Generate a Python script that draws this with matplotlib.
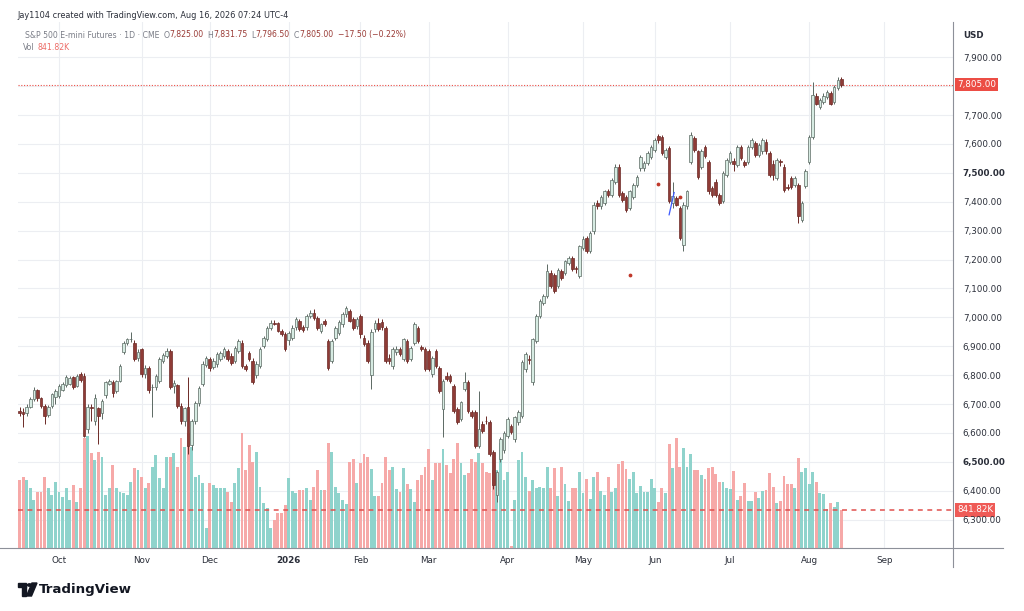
import matplotlib
matplotlib.use("Agg")
import matplotlib.pyplot as plt
import matplotlib.transforms as mtransforms
import numpy as np
import pandas as pd
from matplotlib.lines import Line2D
from matplotlib.patches import Circle, Polygon, Rectangle

W, H, DPI = 1024, 611, 100

# exchange holidays (no daily bar)
holidays = ["2025-11-27", "2025-12-25", "2026-01-01", "2026-01-19", "2026-02-16",
            "2026-04-03", "2026-05-25", "2026-06-19", "2026-07-03", "2026-09-07"]
first_day = "2025-09-16"

# daily bars, ES1!
opens = [
    6675, 6672, 6668, 6690, 6718, 6748, 6720, 6694, 6662, 6692,
    6725, 6728, 6750, 6765, 6770, 6792, 6762, 6803, 6798, 6615,
    6690, 6640, 6685, 6668, 6730, 6770, 6775, 6745, 6780, 6880,
    6913, 6924, 6913, 6860, 6890, 6803, 6826, 6758, 6760, 6780,
    6850, 6865, 6884, 6762, 6765, 6694, 6640, 6690, 6560, 6640,
    6705, 6770, 6835, 6855, 6830, 6838, 6855, 6868, 6884, 6868,
    6850, 6885, 6912, 6832, 6878, 6850, 6800, 6832, 6900, 6925,
    6964, 6982, 6980, 6953, 6942, 6920, 6930, 6965, 6987, 6968,
    6965, 7005, 7016, 6999, 6953, 6988, 6918, 6850, 6930, 6945,
    6976, 7010, 7022, 6993, 6970, 7005, 6930, 6913, 6800, 6959,
    6982, 6985, 6964, 6861, 6832, 6880, 6890, 6855, 6918, 6855,
    6913, 6964, 6896, 6890, 6884, 6803, 6884, 6826, 6683, 6798,
    6798, 6763, 6683, 6648, 6752, 6775, 6671, 6671, 6556, 6631,
    6643, 6637, 6533, 6384, 6510, 6540, 6590, 6625, 6579, 6637,
    6660, 6821, 6855, 6775, 6918, 7005, 7050, 7073, 7154, 7148,
    7108, 7160, 7154, 7188, 7206, 7170, 7143, 7240, 7275, 7229,
    7298, 7395, 7384, 7395, 7436, 7424, 7470, 7522, 7430, 7418,
    7378, 7418, 7459, 7516, 7516, 7533, 7556, 7579, 7628, 7625,
    7556, 7585, 7395, 7413, 7378, 7252, 7384, 7539, 7620, 7574,
    7520, 7591, 7539, 7447, 7470, 7424, 7401, 7493, 7539, 7540,
    7528, 7591, 7539, 7539, 7591, 7602, 7562, 7574, 7608, 7568,
    7530, 7482, 7539, 7522, 7452, 7482, 7459, 7459, 7338, 7453,
    7539, 7625, 7766, 7728, 7746, 7763, 7775, 7746, 7792, 7825,
]
highs = [
    6690, 6685, 6700, 6725, 6758, 6752, 6726, 6700, 6698, 6740,
    6752, 6768, 6775, 6800, 6798, 6798, 6805, 6810, 6808, 6700,
    6700, 6735, 6690, 6718, 6780, 6788, 6782, 6785, 6840, 6918,
    6930, 6948, 6920, 6890, 6895, 6835, 6832, 6770, 6805, 6862,
    6878, 6895, 6890, 6785, 6770, 6705, 6690, 6792, 6650, 6712,
    6762, 6848, 6866, 6862, 6858, 6880, 6885, 6898, 6892, 6875,
    6902, 6925, 6920, 6840, 6885, 6858, 6848, 6896, 6936, 6970,
    6990, 6990, 6985, 6960, 6948, 6952, 6972, 7000, 6995, 6975,
    7012, 7024, 7030, 7005, 6982, 6995, 6925, 6925, 6970, 6992,
    7018, 7040, 7030, 7000, 7002, 7012, 6938, 6920, 6960, 6990,
    6998, 6995, 6970, 6872, 6898, 6900, 6898, 6930, 6925, 6902,
    6985, 6970, 6905, 6896, 6892, 6868, 6890, 6832, 6788, 6810,
    6805, 6770, 6690, 6712, 6810, 6782, 6680, 6680, 6746, 6640,
    6660, 6645, 6540, 6470, 6585, 6608, 6655, 6632, 6660, 6678,
    6852, 6880, 6870, 6930, 7012, 7062, 7080, 7183, 7165, 7155,
    7172, 7168, 7200, 7214, 7212, 7178, 7252, 7280, 7282, 7300,
    7398, 7405, 7425, 7442, 7445, 7482, 7530, 7530, 7438, 7425,
    7442, 7466, 7494, 7562, 7540, 7575, 7598, 7620, 7635, 7630,
    7585, 7592, 7470, 7420, 7385, 7400, 7442, 7640, 7628, 7580,
    7582, 7598, 7546, 7455, 7478, 7430, 7506, 7552, 7575, 7552,
    7598, 7598, 7546, 7598, 7620, 7610, 7604, 7622, 7616, 7575,
    7545, 7552, 7548, 7530, 7460, 7490, 7490, 7466, 7402, 7512,
    7632, 7815, 7775, 7760, 7775, 7788, 7782, 7805, 7832, 7831.75,
]
lows = [
    6660, 6620, 6660, 6685, 6712, 6712, 6685, 6632, 6655, 6688,
    6700, 6722, 6745, 6760, 6765, 6752, 6758, 6775, 6585, 6600,
    6640, 6628, 6562, 6650, 6722, 6765, 6725, 6738, 6775, 6872,
    6905, 6915, 6848, 6850, 6795, 6790, 6740, 6655, 6750, 6772,
    6842, 6858, 6752, 6740, 6688, 6632, 6625, 6528, 6540, 6630,
    6695, 6762, 6828, 6815, 6820, 6830, 6848, 6860, 6850, 6835,
    6842, 6878, 6825, 6815, 6850, 6768, 6790, 6825, 6893, 6918,
    6958, 6972, 6948, 6935, 6882, 6905, 6922, 6958, 6952, 6950,
    6958, 6998, 6992, 6958, 6945, 6970, 6818, 6842, 6922, 6938,
    6968, 7002, 6985, 6955, 6960, 6930, 6900, 6842, 6752, 6950,
    6952, 6955, 6842, 6840, 6820, 6870, 6865, 6848, 6842, 6848,
    6905, 6912, 6885, 6815, 6815, 6795, 6825, 6740, 6585, 6780,
    6772, 6670, 6630, 6640, 6745, 6670, 6652, 6548, 6548, 6600,
    6630, 6520, 6405, 6361, 6500, 6532, 6582, 6595, 6570, 6628,
    6652, 6812, 6840, 6765, 6910, 6998, 7042, 7066, 7100, 7085,
    7100, 7130, 7146, 7180, 7160, 7155, 7135, 7232, 7222, 7222,
    7290, 7375, 7376, 7388, 7418, 7416, 7462, 7416, 7400, 7365,
    7370, 7410, 7452, 7508, 7508, 7526, 7548, 7572, 7605, 7562,
    7548, 7395, 7380, 7385, 7268, 7228, 7376, 7530, 7572, 7480,
    7512, 7550, 7428, 7418, 7418, 7388, 7394, 7486, 7532, 7505,
    7520, 7545, 7520, 7532, 7584, 7555, 7555, 7566, 7567, 7486,
    7475, 7475, 7525, 7434, 7440, 7445, 7452, 7327, 7330, 7446,
    7530, 7618, 7735, 7720, 7740, 7756, 7735, 7740, 7786, 7796.5,
]
closes = [
    6670, 6665, 6690, 6718, 6750, 6720, 6692, 6660, 6690, 6735,
    6745, 6762, 6768, 6792, 6790, 6760, 6798, 6782, 6591, 6690,
    6686, 6722, 6660, 6712, 6775, 6780, 6738, 6780, 6832, 6912,
    6924, 6926, 6856, 6880, 6805, 6826, 6748, 6760, 6798, 6855,
    6870, 6884, 6760, 6772, 6694, 6640, 6685, 6556, 6640, 6705,
    6755, 6840, 6858, 6826, 6850, 6872, 6878, 6890, 6855, 6843,
    6895, 6918, 6832, 6823, 6857, 6775, 6840, 6890, 6930, 6964,
    6982, 6978, 6953, 6942, 6890, 6945, 6964, 6993, 6960, 6958,
    7005, 7016, 6999, 6964, 6976, 6976, 6826, 6918, 6964, 6985,
    7010, 7033, 6988, 6964, 6995, 6941, 6907, 6850, 6950, 6982,
    6959, 6965, 6850, 6850, 6890, 6890, 6872, 6924, 6850, 6895,
    6976, 6918, 6890, 6821, 6821, 6861, 6832, 6746, 6780, 6786,
    6780, 6677, 6637, 6706, 6775, 6677, 6660, 6556, 6614, 6608,
    6640, 6528, 6420, 6464, 6579, 6600, 6648, 6602, 6654, 6671,
    6844, 6872, 6852, 6924, 7005, 7056, 7073, 7160, 7108, 7091,
    7165, 7137, 7194, 7206, 7166, 7166, 7246, 7270, 7229, 7292,
    7390, 7385, 7418, 7436, 7424, 7476, 7522, 7424, 7407, 7372,
    7436, 7459, 7487, 7556, 7533, 7568, 7591, 7614, 7612, 7568,
    7578, 7401, 7420, 7390, 7275, 7390, 7436, 7631, 7579, 7487,
    7574, 7560, 7436, 7424, 7424, 7395, 7499, 7545, 7568, 7531,
    7591, 7551, 7528, 7591, 7614, 7562, 7597, 7614, 7574, 7493,
    7492, 7545, 7537, 7441, 7447, 7450, 7482, 7350, 7395, 7505,
    7625, 7769, 7740, 7752, 7766, 7780, 7740, 7798, 7822.5, 7805,
]
# volume in thousands of contracts
volumes = [
    1506, 1580, 1506, 1322, 1063, 1248, 1248, 1580, 1322, 1174,
    1469, 1248, 1137, 1322, 1063, 1396, 1026, 1322, 2429, 2481,
    2097, 1949, 2134, 2023, 1174, 1322, 1838, 1322, 1248, 1211,
    1174, 1469, 1765, 1728, 1580, 1322, 1432, 1801, 2060, 1543,
    1322, 2023, 2023, 2097, 1801, 2429, 2245, 2540, 2244, 1580,
    1617, 1432, 436, 1432, 1394, 1320, 1320, 1320, 1247, 1026,
    1432, 1765, 2540, 1728, 2282, 1913, 2134, 1358, 1000, 890,
    436, 620, 768, 768, 952, 1543, 1260, 1210, 1284, 1284,
    1320, 1063, 1358, 1728, 1284, 1284, 2318, 2134, 1358, 1210,
    1063, 975, 1912, 1981, 1446, 1875, 2081, 2023, 1743, 1152,
    1152, 1446, 2008, 1728, 1787, 1300, 1247, 1765, 1417, 1300,
    1026, 1506, 1617, 1802, 2185, 1506, 1890, 1875, 2193, 1838,
    1654, 1981, 2326, 1875, 1617, 1654, 1981, 1912, 2111, 1875,
    1691, 1654, 1721, 1728, 2318, 1506, 1690, 43, 1063, 1949,
    2134, 1580, 1262, 1506, 1321, 1358, 1321, 1801, 1336, 1764,
    1159, 1801, 1410, 1041, 1321, 1321, 1676, 1211, 1529, 1085,
    1580, 1690, 1262, 1174, 1565, 1247, 1321, 1853, 1928, 1747,
    1529, 1676, 1211, 1373, 1247, 1247, 1529, 1321, 1026, 1336,
    1211, 2296, 1764, 2429, 1801, 2222, 1801, 2075, 1728, 1728,
    1617, 1529, 1764, 1801, 1631, 1469, 1469, 1321, 1306, 1705,
    1063, 1159, 1432, 1041, 1041, 1233, 1100, 1262, 1284, 1654,
    1358, 990, 1041, 1602, 1410, 1410, 1336, 1999, 1690, 1779,
    1410, 1676, 1454, 1211, 1189, 862, 990, 915, 1012, 841.82,
]

# small drawings left on the chart
dot_bars = [170, 178, 184]
dot_prices = [7145, 7462, 7417]
pen_bars = [181.0, 182.4]
pen_prices = [7355, 7432]

price_ticks = list(range(6300, 8000, 100))
bold_ticks = [6500, 7500]

UP_FILL, UP_EDGE = "#d6ebe2", "#5b6963"
DN_FILL, DN_EDGE = "#8f3b36", "#6c2a26"
VOL_UP, VOL_DN = "#8fd3cc", "#f6a9a8"
GRID = "#eceef2"
RED = "#ec4d45"
TXT = "#2a2e39"
GREY = "#7a7d87"
VAL = "#9a3b36"


def px_rect(left, top, right, bottom):
    return [left / W, 1 - bottom / H, (right - left) / W, (bottom - top) / H]


def chain_text(fig, x_px, y_px, parts, size):
    # parts: (text, colour, gap in px after it)
    renderer = fig.canvas.get_renderer()
    x = x_px
    for s, color, gap in parts:
        t = fig.text(x / W, 1 - y_px / H, s, color=color, fontsize=size,
                     va="center", ha="left")
        x += t.get_window_extent(renderer).width + gap


all_days = pd.bdate_range(first_day, "2026-09-30", freq="C", holidays=holidays)
n = len(closes)
x = np.arange(n)
o, h, l, c = (np.array(v, dtype=float) for v in (opens, highs, lows, closes))
up = c >= o

fig = plt.figure(figsize=(W / DPI, H / DPI), dpi=DPI)
rect = px_rect(18, 22, 953, 548)
axv = fig.add_axes(rect)
ax = fig.add_axes(rect, sharex=axv)
ax.patch.set_alpha(0)

# volume pane
axv.bar(x, volumes, width=0.8, color=np.where(up, VOL_UP, VOL_DN), linewidth=0, zorder=2)
axv.set_ylim(0, 841.82 * 526 / 38)
axv.axhline(volumes[-1], color="#e0504d", lw=1.1, ls=(0, (3.2, 3.0)), zorder=3)
axv.set_yticks([])
for s in axv.spines.values():
    s.set_visible(False)

# month grid
month_start = [i for i in range(1, len(all_days)) if all_days[i].month != all_days[i - 1].month]
month_lab = [d.strftime("%b") if d.month != 1 else str(d.year) for d in all_days[month_start]]
for i in month_start:
    axv.axvline(i, color=GRID, lw=0.8, zorder=0)
for p in price_ticks:
    axv.axhline((p - 6202) / (8022 - 6202) * axv.get_ylim()[1], color=GRID, lw=0.8, zorder=0)

# candles
ax.vlines(x[up], l[up], h[up], color=UP_EDGE, lw=0.7, zorder=2)
ax.vlines(x[~up], l[~up], h[~up], color=DN_EDGE, lw=0.7, zorder=2)
body_lo = np.minimum(o, c)
body_h = np.maximum(np.abs(c - o), 2.5)
ax.bar(x[up], body_h[up], bottom=body_lo[up], width=0.72, color=UP_FILL,
       edgecolor=UP_EDGE, linewidth=0.5, zorder=3)
ax.bar(x[~up], body_h[~up], bottom=body_lo[~up], width=0.72, color=DN_FILL,
       edgecolor=DN_EDGE, linewidth=0.5, zorder=3)
ax.scatter(dot_bars, dot_prices, s=3, color="#c0392b", zorder=4)
ax.plot(pen_bars, pen_prices, color="#3d5afe", lw=0.9, zorder=4)

ax.set_xlim(-0.42, 260.1)
ax.set_ylim(6202, 8022)
ax.axhline(c[-1], color=RED, lw=0.8, ls=(0, (1, 1.5)), zorder=1)

ax.yaxis.tick_right()
ax.set_yticks(price_ticks)
ax.set_yticklabels([f"{p:,.2f}" for p in price_ticks])
for lab, p in zip(ax.get_yticklabels(), price_ticks):
    lab.set_fontweight("bold" if p in bold_ticks else "normal")
    # the last-price tag covers the scale label next to it
    lab.set_visible(abs(p - c[-1]) > 40)
ax.tick_params(axis="y", length=0, pad=7, labelsize=6.3, labelcolor=TXT)
ax.set_xticks(month_start)
ax.set_xticklabels(month_lab)
for lab, t in zip(ax.get_xticklabels(), month_lab):
    lab.set_fontweight("bold" if t.isdigit() else "normal")
ax.tick_params(axis="x", length=0, pad=6, labelsize=6.3, labelcolor=TXT)
axv.tick_params(axis="x", length=0, labelbottom=False)
for side in ("left", "top", "right", "bottom"):
    ax.spines[side].set_visible(False)

# axis borders (price scale and time scale)
fig.add_artist(Line2D([953 / W, 953 / W], [1 - 22 / H, 1 - 567 / H], color="#8d9099", lw=0.8))
fig.add_artist(Line2D([0, 1003 / W], [1 - 548 / H, 1 - 548 / H], color="#8d9099", lw=0.8))

# last value labels
tr = mtransforms.blended_transform_factory(ax.transAxes, ax.transData)
off = mtransforms.ScaledTranslation(4 / DPI, 0, fig.dpi_scale_trans)
ax.text(1.0, c[-1], f"{c[-1]:,.2f}", transform=tr + off, ha="left", va="center",
        fontsize=6.3, color="white", clip_on=False, zorder=5,
        bbox=dict(boxstyle="square,pad=0.25", fc=RED, ec="none"))
trv = mtransforms.blended_transform_factory(axv.transAxes, axv.transData)
axv.text(1.0, volumes[-1], f"{volumes[-1]:.2f}K", transform=trv + off, ha="left", va="center",
         fontsize=6.3, color="white", clip_on=False, zorder=5,
         bbox=dict(boxstyle="square,pad=0.25", fc="#ef5b57", ec="none"))
fig.text(963 / W, 1 - 36 / H, "USD", fontsize=6.3, color=TXT, fontweight="bold", va="center")

# header
fig.text(17 / W, 1 - 15 / H, "Jay1104 created with TradingView.com, Aug 16, 2026 07:24 UTC-4",
         fontsize=5.85, color=TXT, va="center")
chg = c[-1] - c[-2]
chain_text(fig, 25, 35, [
    ("S&P 500 E-mini Futures \u00b7 1D \u00b7 CME", GREY, 4),
    ("O", GREY, 0), (f"{o[-1]:,.2f}", VAL, 4),
    ("H", GREY, 0), (f"{h[-1]:,.2f}", VAL, 4),
    ("L", GREY, 0), (f"{l[-1]:,.2f}", VAL, 4),
    ("C", GREY, 0), (f"{c[-1]:,.2f}", VAL, 4),
    (f"\u2212{abs(chg):.2f} (\u2212{abs(chg) / c[-2] * 100:.2f}%)", VAL, 0),
], size=5.6)
chain_text(fig, 23, 47, [("Vol", GREY, 3), (f"{volumes[-1]:.2f}K", "#ec6b66", 0)], size=5.6)

# TradingView mark
def px(xp, yp):
    return (xp / W, 1 - yp / H)

logo = "#131722"
fig.add_artist(Rectangle(px(18, 587), 8 / W, 4 / H, transform=fig.transFigure, color=logo))
fig.add_artist(Rectangle(px(22, 596), 4 / W, 10 / H, transform=fig.transFigure, color=logo))
fig.add_artist(Circle(px(29.5, 585), 2 / W, transform=fig.transFigure, color=logo))
fig.add_artist(Polygon([px(32, 583), px(37, 583), px(31.5, 596), px(26.5, 596)],
                       transform=fig.transFigure, color=logo))
fig.text(38.5 / W, 1 - 589.5 / H, "TradingView", fontsize=9.6, fontweight="bold",
         color=logo, va="center")

fig.savefig("out.png", dpi=DPI)
